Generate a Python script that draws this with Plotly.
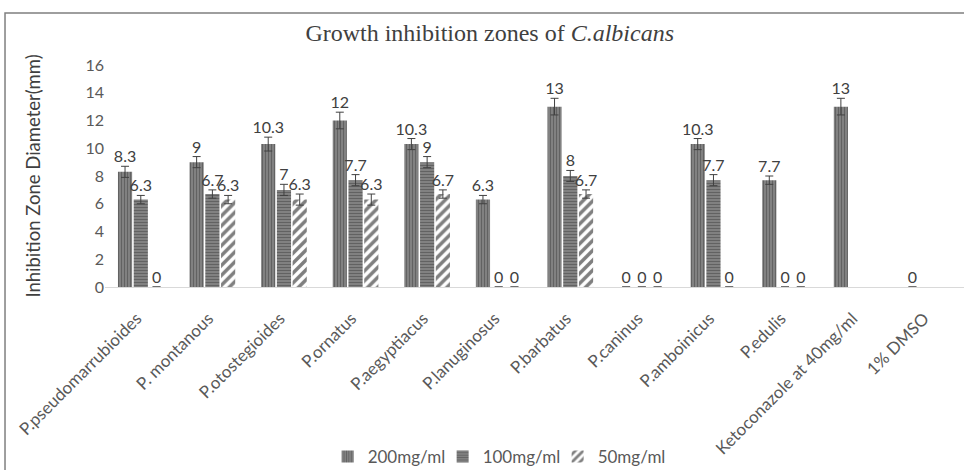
import plotly.graph_objects as go

categories = ["P.pseudomarrubioides", "P. montanous", "P.otostegioides", "P.ornatus",
              "P.aegyptiacus", "P.lanuginosus", "P.barbatus", "P.caninus",
              "P.amboinicus", "P.edulis", "Ketoconazole at 40mg/ml", "1% DMSO"]
series_names = ["200mg/ml", "100mg/ml", "50mg/ml"]
v200 = [8.3, 9, 10.3, 12, 10.3, 6.3, 13, 0, 10.3, 7.7, 13, 0]
v100 = [6.3, 6.7, 7, 7.7, 9, 0, 8, 0, 7.7, 0, None, None]
v50 = [0, 6.3, 6.3, 6.3, 6.7, 0, 6.7, 0, 0, 0, None, None]
e200 = [0.4, 0.4, 0.5, 0.6, 0.4, 0.3, 0.6, 0, 0.4, 0.3, 0.6, 0]
e100 = [0.3, 0.3, 0.4, 0.4, 0.4, 0, 0.4, 0, 0.4, 0, 0, 0]
e50 = [0, 0.3, 0.4, 0.4, 0.3, 0, 0.3, 0, 0, 0, 0, 0]

def fmt(v):
    if v is None:
        return ""
    return ("%g" % v)

font_fam = "Lato, 'Open Sans', sans-serif"
styles = [
    dict(color="#7a7a7a", pattern=dict(shape="|", fgcolor="#3a3a3a", bgcolor="#8a8a8a", size=3, solidity=0.5)),
    dict(color="#7a7a7a", pattern=dict(shape="-", fgcolor="#3a3a3a", bgcolor="#8a8a8a", size=3, solidity=0.5)),
    dict(color="white", pattern=dict(shape="/", fgcolor="#000000", bgcolor="white", size=7, solidity=0.5)),
]

fig = go.Figure()
for i, (name, vals, errs, st) in enumerate(zip(series_names, [v200, v100, v50], [e200, e100, e50], styles)):
    fig.add_trace(go.Bar(
        name=name, x=categories, y=vals, offsetgroup=str(i),
        marker=dict(color=st["color"], pattern=st["pattern"], line=dict(width=0)),
        error_y=dict(type="data", array=errs, visible=True, color="#404040", thickness=1, width=4),
    ))
for i, (vals, errs) in enumerate(zip([v200, v100, v50], [e200, e100, e50])):
    ys = [None if v is None else v + e for v, e in zip(vals, errs)]
    fig.add_trace(go.Scatter(
        x=categories, y=ys, mode="text", offsetgroup=str(i), showlegend=False,
        text=[fmt(v) for v in vals], textposition="top center", cliponaxis=False,
        textfont=dict(family=font_fam, size=16, color="#404040"), hoverinfo="skip",
    ))

fig.update_layout(
    width=964, height=470,
    margin=dict(l=105, r=0, t=65, b=183, autoexpand=False),
    paper_bgcolor="white", plot_bgcolor="white",
    barmode="group", bargap=0.34, bargroupgap=0.1,
    scattermode="group", scattergap=0.34,
    title=dict(text="Growth inhibition zones of <i>C.albicans</i>", x=0.508, xanchor="center",
               y=1 - 33 / 470, yanchor="middle", yref="container", automargin=False,
               font=dict(family="'Liberation Serif', 'DejaVu Serif', serif", size=24, color="#404040")),
    showlegend=True,
    legend=dict(orientation="h", x=0.46, xanchor="center", y=-0.765, yanchor="middle",
                font=dict(family=font_fam, size=17, color="#595959"),
                entrywidth=70, entrywidthmode="pixels",
                traceorder="normal"),
    xaxis=dict(tickangle=-45, showline=True, linecolor="#d9d9d9", linewidth=1, ticks="",
               tickfont=dict(family=font_fam, size=17, color="#595959"), showgrid=False,
               automargin=False, ticklabelstandoff=14, ticklabelshift=-4),
    yaxis=dict(range=[0, 16], dtick=2, showgrid=False, zeroline=False, ticks="",
               tickfont=dict(family=font_fam, size=16, color="#595959"), automargin=False,
               title=dict(text="Inhibition Zone Diameter(mm)", standoff=39,
                          font=dict(family=font_fam, size=18.5, color="#404040"))),
)

# outer frame
fig.add_shape(type="rect", xref="paper", yref="paper", x0=-0.1164, x1=1.01, y0=-1.0, y1=1.234,
              line=dict(color="#7f7f7f", width=1.5), fillcolor="rgba(0,0,0,0)", layer="below")

fig.write_html("out.html", config={"displayModeBar": False},
               post_script="document.body.style.margin='0';document.body.style.overflow='hidden';")
